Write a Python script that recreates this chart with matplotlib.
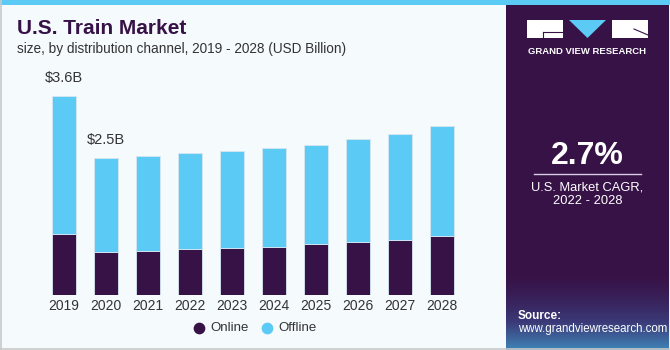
import numpy as np
import matplotlib.pyplot as plt
from matplotlib.patches import Rectangle, Polygon

plt.rcParams["font.family"] = ["Liberation Sans", "DejaVu Sans"]

years = ["2019", "2020", "2021", "2022", "2023", "2024", "2025", "2026", "2027", "2028"]
online = [1.10, 0.78, 0.80, 0.83, 0.85, 0.87, 0.92, 0.96, 0.99, 1.07]
total = [3.60, 2.48, 2.51, 2.56, 2.60, 2.65, 2.72, 2.82, 2.91, 3.05]
offline = [t - o for t, o in zip(total, online)]
bar_labels = {0: "$3.6B", 1: "$2.5B"}

PURPLE = "#371247"
BLUE = "#5BCAF5"
BG = "#F5FAFD"
W, H = 670, 350

fig = plt.figure(figsize=(6.7, 3.5), dpi=100)
fig.patch.set_facecolor(BG)

# decoration layer in pixel coordinates
deco = fig.add_axes([0, 0, 1, 1])
deco.axis("off")
deco.add_patch(Rectangle((0, 0), W, 5, color=BLUE, lw=0))
deco.add_patch(Rectangle((506, 5), 163, 345, color=PURPLE, lw=0))
# bottom glow of the side panel
grad = np.linspace(0, 1, 100)[:, None]
cmap = plt.matplotlib.colors.LinearSegmentedColormap.from_list("g", [PURPLE, "#3B3A78", "#3F86B8"])
deco.imshow(grad ** 1.6, cmap=cmap, extent=(506, 669, 350, 270), aspect="auto", zorder=1)
deco.set_xlim(0, W)
deco.set_ylim(H, 0)
deco.plot([0.5, 0.5], [0, 349], color="#C8C8C8", lw=1.2)
deco.plot([0, 669], [348.8, 348.8], color="#C8C8C8", lw=1.2)
deco.plot([669.5, 669.5], [0, 349], color="#C8C8C8", lw=1.0)

# logo
deco.add_patch(Rectangle((527, 20), 36, 18, color="white", lw=0, zorder=3))
deco.add_patch(Polygon([[569, 20], [606, 20], [587.5, 38]], color=BLUE, lw=0, zorder=3))
deco.add_patch(Rectangle((612, 20), 36, 18, color="white", lw=0, zorder=3))
deco.plot([543, 563], [32, 32], color=PURPLE, lw=0.8, zorder=4)
deco.plot([543, 543], [32, 38], color=PURPLE, lw=0.8, zorder=4)
deco.plot([634, 648], [29, 35], color=PURPLE, lw=0.8, zorder=4)
deco.text(587.5, 51, "GRAND VIEW RESEARCH", color="white", fontsize=6.8, fontweight="bold",
          ha="center", va="center", zorder=4)

# CAGR block
deco.text(587.5, 156, "2.7%", color="white", fontsize=23, fontweight="bold",
          ha="center", va="center", zorder=4)
deco.plot([534, 641], [173.5, 173.5], color="#D8CCE0", lw=1.0, zorder=4)
deco.text(587.5, 188, "U.S. Market CAGR,", color="white", fontsize=9.3, ha="center", va="center", zorder=4)
deco.text(587.5, 201, "2022 - 2028", color="white", fontsize=9.3, ha="center", va="center", zorder=4)
deco.text(518, 316, "Source:", color="white", fontsize=8.5, fontweight="bold", ha="left", va="center", zorder=4)
deco.text(518, 329, "www.grandviewresearch.com", color="white", fontsize=8.3, ha="left", va="center", zorder=4)

# titles
deco.text(17, 29, "U.S. Train Market", color=PURPLE, fontsize=15, fontweight="bold",
          ha="left", va="center")
deco.text(17, 49, "size, by distribution channel, 2019 - 2028 (USD Billion)", color="#333333",
          fontsize=9.8, ha="left", va="center")

# legend
deco.scatter([199], [328], s=55, color=PURPLE, zorder=4)
deco.text(210, 328, "Online", fontsize=9.5, color="#333333", ha="left", va="center")
deco.scatter([267], [328], s=55, color=BLUE, zorder=4)
deco.text(278, 328, "Offline", fontsize=9.5, color="#333333", ha="left", va="center")

# bar chart
ax = fig.add_axes([43 / W, 55 / H, 420 / W, 221.2 / H])
ax.set_facecolor("none")
x = np.arange(len(years))
ax.bar(x, online, width=0.57, color=PURPLE, edgecolor="#D9E6F2", linewidth=0.6)
ax.bar(x, offline, bottom=online, width=0.57, color=BLUE, edgecolor="#D9E6F2", linewidth=0.6)
for i, lab in bar_labels.items():
    ax.text(x[i], total[i] + 0.2, lab, ha="center", va="bottom", fontsize=10.5, color="#333333")
ax.set_xlim(-0.5, 9.5)
ax.set_ylim(0, 4)
ax.set_xticks(x)
ax.set_xticklabels(years, fontsize=10, color="#333333")
ax.tick_params(axis="x", length=0, pad=3)
ax.set_yticks([])
for s in ax.spines.values():
    s.set_visible(False)

fig.savefig("out.png", dpi=100, facecolor=fig.get_facecolor())
